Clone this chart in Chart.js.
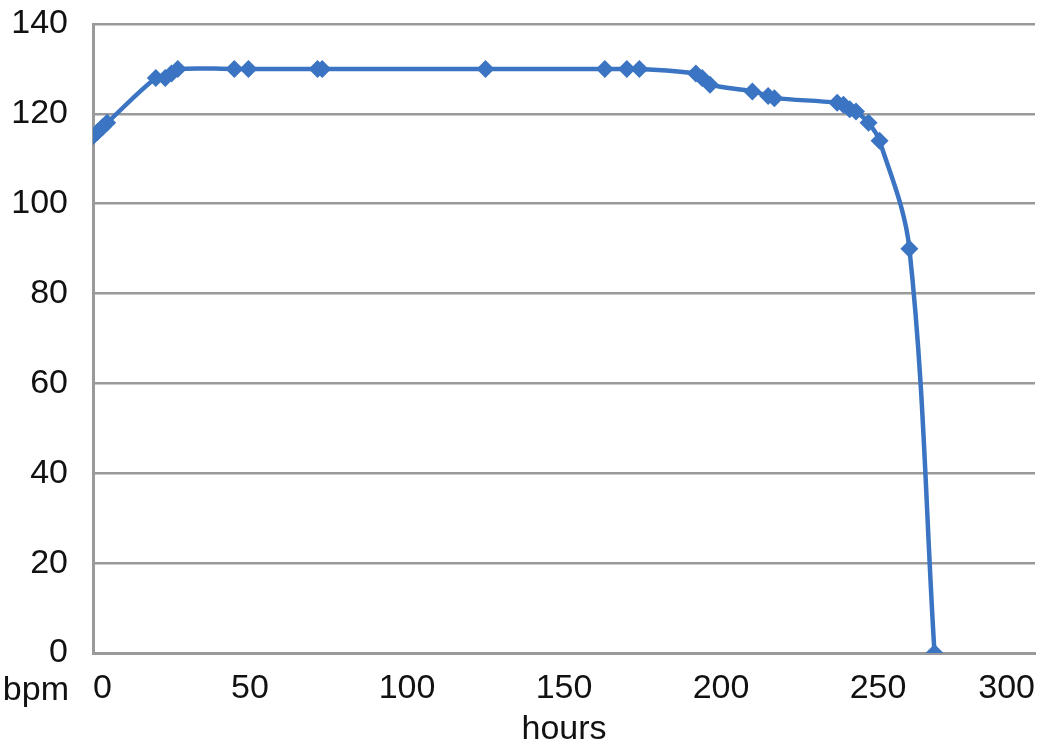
<!DOCTYPE html>
<html>
<head>
<meta charset="utf-8">
<script src="https://cdn.jsdelivr.net/npm/chart.js@4"></script>
<style>
  html, body { margin: 0; padding: 0; background: #fff; }
  #wrap { width: 1050px; height: 751px; position: relative; }
</style>
</head>
<body>
<div id="wrap"><canvas id="chart"></canvas></div>
<script>
// readings: hours vs heart rate
const hours = [0, 1.5, 3, 4.5, 20, 23, 25, 27, 45, 49.5, 71.5, 73, 125, 163, 170, 174, 192, 194, 196.5, 210, 215, 217, 237, 239, 241, 243, 247, 250.5, 260, 268];
const bpm   = [115, 116, 117, 118, 128, 128, 129, 130, 130, 130, 130, 130, 130, 130, 130, 130, 129, 128, 126.5, 125, 124, 123.5, 122.5, 122, 121, 120.5, 118, 114, 90, 0];
const yTicks = [0, 20, 40, 60, 80, 100, 120, 140];
const xTicks = [0, 50, 100, 150, 200, 250, 300];

const lineColor = '#3B74C2';
const fontFamily = 'Liberation Sans, Arial, sans-serif';
const tickFont = { family: fontFamily, size: 34 };

// "bpm" sits at the left end of the x tick row, like the original
const bpmLabel = {
  id: 'bpmLabel',
  afterDraw(chart) {
    const { ctx } = chart;
    ctx.save();
    ctx.font = '34px ' + fontFamily;
    ctx.fillStyle = '#111';
    ctx.textAlign = 'right';
    ctx.textBaseline = 'alphabetic';
    ctx.fillText('bpm', 69, 700);
    ctx.restore();
  }
};

// keep the plot box where the original has it, labels may hang over the edges
const noLabelPadding = s => { s.paddingLeft = 0; s.paddingRight = 0; s.paddingTop = 0; s.paddingBottom = 0; };

new Chart(document.getElementById('chart'), {
  type: 'line',
  data: {
    datasets: [{
      data: hours.map((h, i) => ({ x: h, y: bpm[i] })),
      borderColor: lineColor, backgroundColor: lineColor,
      borderWidth: 4.5, tension: 0.35,
      pointStyle: 'rectRot', pointRadius: 9, pointBorderWidth: 0
    }]
  },
  options: {
    responsive: true, maintainAspectRatio: false, animation: false,
    layout: { padding: { top: 24, right: 15, left: 0, bottom: 0 } },
    plugins: { legend: { display: false }, tooltip: { enabled: false } },
    scales: {
      x: {
        type: 'linear', min: 0, max: 300,
        afterBuildTicks: s => { s.ticks = xTicks.map(v => ({ value: v })); },
        afterFit: s => { s.height = 98; noLabelPadding(s); },
        grid: { display: false, drawTicks: false },
        border: { display: true, color: '#9a9a9a', width: 3 },
        ticks: { font: tickFont, color: '#111', padding: 15, maxRotation: 0, align: 'inner' },
        title: { display: true, text: 'hours', font: tickFont, color: '#111', padding: { top: 0, bottom: 1 } }
      },
      y: {
        min: 0, max: 140,
        afterBuildTicks: s => { s.ticks = yTicks.map(v => ({ value: v })); },
        afterFit: s => { s.width = 93; noLabelPadding(s); },
        grid: { color: '#9a9a9a', lineWidth: 2.5, drawTicks: false },
        border: { display: true, color: '#9a9a9a', width: 3 },
        ticks: { font: tickFont, color: '#111', padding: 25 }
      }
    }
  },
  plugins: [bpmLabel]
});
</script>
</body>
</html>
